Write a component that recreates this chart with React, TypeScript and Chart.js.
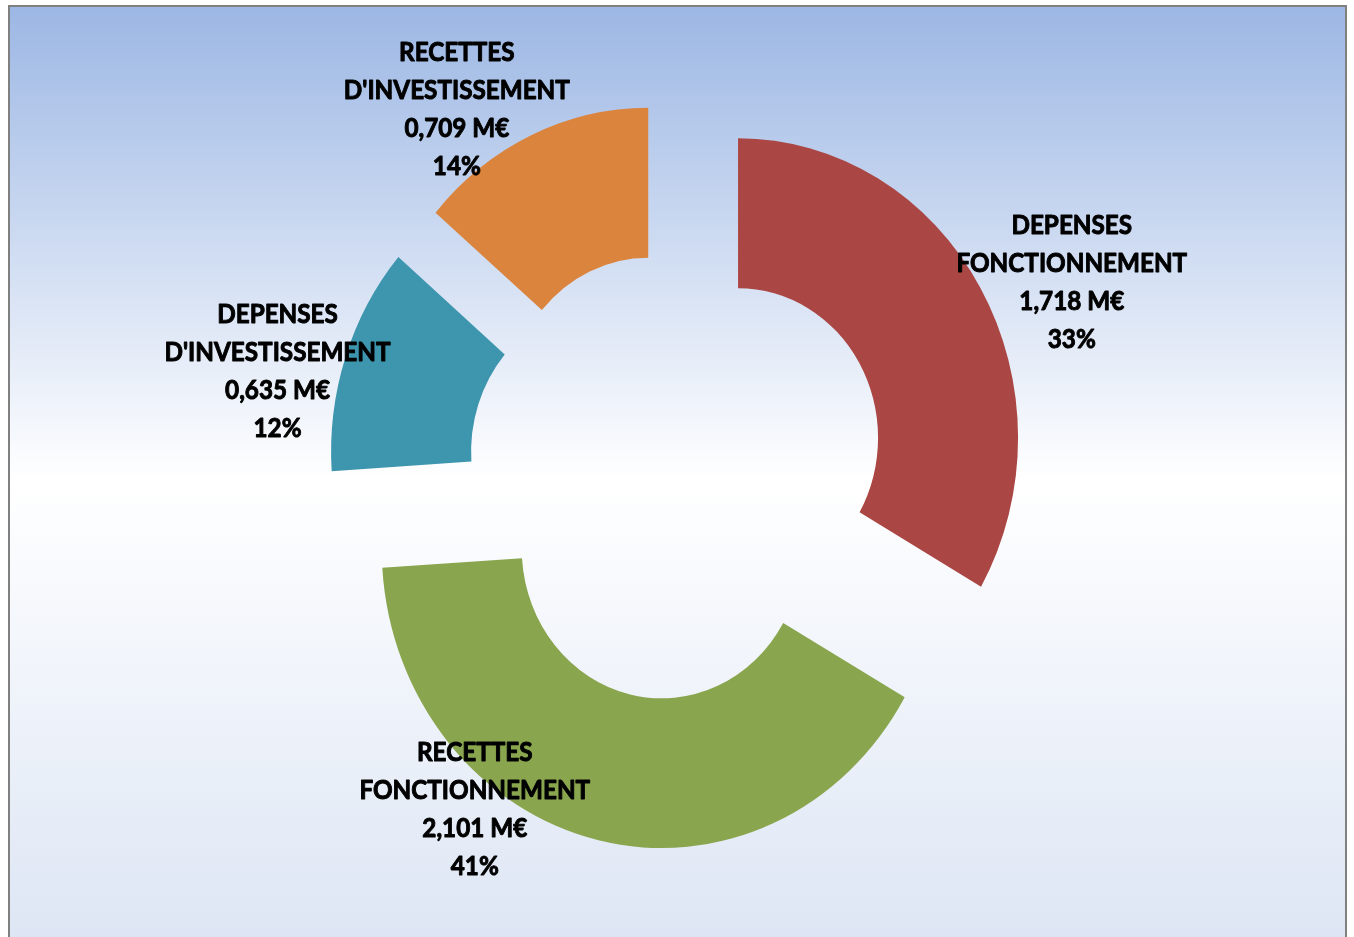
import React, { useEffect, useRef } from 'react';
import { Chart, registerables } from 'chart.js';

Chart.register(...registerables);

// ---------- data ----------
const categories = [
  'DEPENSES FONCTIONNEMENT',
  'RECETTES FONCTIONNEMENT',
  "DEPENSES D'INVESTISSEMENT",
  "RECETTES D'INVESTISSEMENT",
];
const labelLines = [
  ['DEPENSES', 'FONCTIONNEMENT'],
  ['RECETTES', 'FONCTIONNEMENT'],
  ['DEPENSES', "D'INVESTISSEMENT"],
  ['RECETTES', "D'INVESTISSEMENT"],
];
const valuesME = [1.718, 2.101, 0.635, 0.709];
const sliceColors = ['#AA4643', '#89A54E', '#3D96AE', '#DB843D'];

// ---------- layout ----------
const CANVAS_W = 1339;
const CANVAS_H = 932;
const OUTER_RADIUS = 280;
const CUTOUT = '50%';
const EXPLODE = 0.25; // fraction of the outer radius
const STRETCH_Y = 1.07; // the original picture is slightly stretched vertically
// label anchor: angle adjustment (deg) from slice mid angle, distance as factor of outer radius
const LABEL_PLACEMENT = [
  { dAngle: 5.4, dist: 1.55 },
  { dAngle: 20.0, dist: 1.328 },
  { dAngle: -4.6, dist: 1.471 },
  { dAngle: -8.05, dist: 1.456 },
];
const LINE_STEP = 38;
const TEXT_WIDTH_REF = 231; // width of "FONCTIONNEMENT"
const FONT_FAMILY = 'Lato, Carlito, "Open Sans", sans-serif';

const total = valuesME.reduce((a, b) => a + b, 0);
const fmtValue = (v: number) => v.toFixed(3).replace('.', ',') + ' M€';
const fmtPct = (v: number) => Math.round((v / total) * 100) + '%';

const backgroundPlugin = {
  id: 'excelBackground',
  beforeDraw(chart: any) {
    const { ctx, width, height } = chart;
    ctx.save();
    const g = ctx.createLinearGradient(0, 0, 0, 950);
    g.addColorStop(0, '#9cb7e4');
    g.addColorStop(0.5, '#ffffff');
    g.addColorStop(1, '#dce5f4');
    ctx.fillStyle = g;
    ctx.fillRect(0, 0, width, height);
    ctx.strokeStyle = '#808080';
    ctx.lineWidth = 2;
    ctx.beginPath();
    ctx.moveTo(1, height + 10);
    ctx.lineTo(1, 1);
    ctx.lineTo(width - 1, 1);
    ctx.lineTo(width - 1, height + 10);
    ctx.stroke();
    ctx.restore();
  },
};

const explodedPlugin = {
  id: 'explodedStretch',
  beforeDatasetsDraw(chart: any) {
    const ctx = chart.ctx;
    const meta = chart.getDatasetMeta(0);
    meta.data.forEach((arc: any) => {
      const { x, y, startAngle, endAngle, outerRadius } = arc.getProps(
        ['x', 'y', 'startAngle', 'endAngle', 'outerRadius'],
        true
      );
      const mid = (startAngle + endAngle) / 2;
      const d = outerRadius * EXPLODE;
      ctx.save();
      ctx.translate(x, y);
      ctx.scale(1, STRETCH_Y);
      ctx.translate(-x, -y);
      ctx.translate(Math.cos(mid) * d, Math.sin(mid) * d);
      arc.draw(ctx);
      ctx.restore();
    });
    return false;
  },
};

const labelPlugin = {
  id: 'sliceLabels',
  afterDraw(chart: any) {
    const ctx = chart.ctx;
    const meta = chart.getDatasetMeta(0);
    ctx.save();
    ctx.font = `bold 100px ${FONT_FAMILY}`;
    const refW = ctx.measureText('FONCTIONNEMENT').width;
    const size = (TEXT_WIDTH_REF / refW) * 100;
    ctx.font = `bold ${size}px ${FONT_FAMILY}`;
    ctx.fillStyle = '#000000';
    ctx.strokeStyle = '#000000';
    ctx.lineWidth = 0.9;
    ctx.lineJoin = 'round';
    ctx.textAlign = 'center';
    ctx.textBaseline = 'alphabetic';
    const capH = size * 0.72 * STRETCH_Y;
    meta.data.forEach((arc: any, i: number) => {
      const { x, y, startAngle, endAngle, outerRadius } = arc.getProps(
        ['x', 'y', 'startAngle', 'endAngle', 'outerRadius'],
        true
      );
      const p = LABEL_PLACEMENT[i];
      const a = (startAngle + endAngle) / 2 + (p.dAngle * Math.PI) / 180;
      const lx = x + Math.cos(a) * p.dist * outerRadius;
      const ly = y + Math.sin(a) * p.dist * outerRadius * STRETCH_Y;
      const lines = [...labelLines[i], fmtValue(valuesME[i]), fmtPct(valuesME[i])];
      const blockH = (lines.length - 1) * LINE_STEP + capH;
      lines.forEach((line, j) => {
        const by = ly - blockH / 2 + capH + j * LINE_STEP;
        ctx.save();
        ctx.translate(lx, by);
        ctx.scale(1, STRETCH_Y);
        ctx.fillText(line, 0, 0);
        ctx.strokeText(line, 0, 0);
        ctx.restore();
      });
    });
    ctx.restore();
  },
};

export default function App() {
  const canvasRef = useRef<HTMLCanvasElement | null>(null);

  useEffect(() => {
    if (!canvasRef.current) return;
    const chart = new Chart(canvasRef.current, {
      type: 'doughnut',
      data: {
        labels: categories,
        datasets: [
          {
            data: valuesME,
            backgroundColor: sliceColors,
            borderWidth: 0,
            radius: OUTER_RADIUS,
            cutout: CUTOUT,
          } as any,
        ],
      },
      options: {
        responsive: false,
        animation: false,
        radius: OUTER_RADIUS,
        cutout: CUTOUT,
        layout: { padding: { top: 9 } },
        plugins: {
          legend: { display: false },
          tooltip: { enabled: false },
        },
      } as any,
      plugins: [backgroundPlugin, explodedPlugin, labelPlugin],
    });
    return () => chart.destroy();
  }, []);

  return (
    <div style={{ position: 'absolute', left: 8, top: 5 }}>
      <canvas
        ref={canvasRef}
        width={CANVAS_W}
        height={CANVAS_H}
        style={{ display: 'block', width: CANVAS_W, height: CANVAS_H }}
      />
    </div>
  );
}
